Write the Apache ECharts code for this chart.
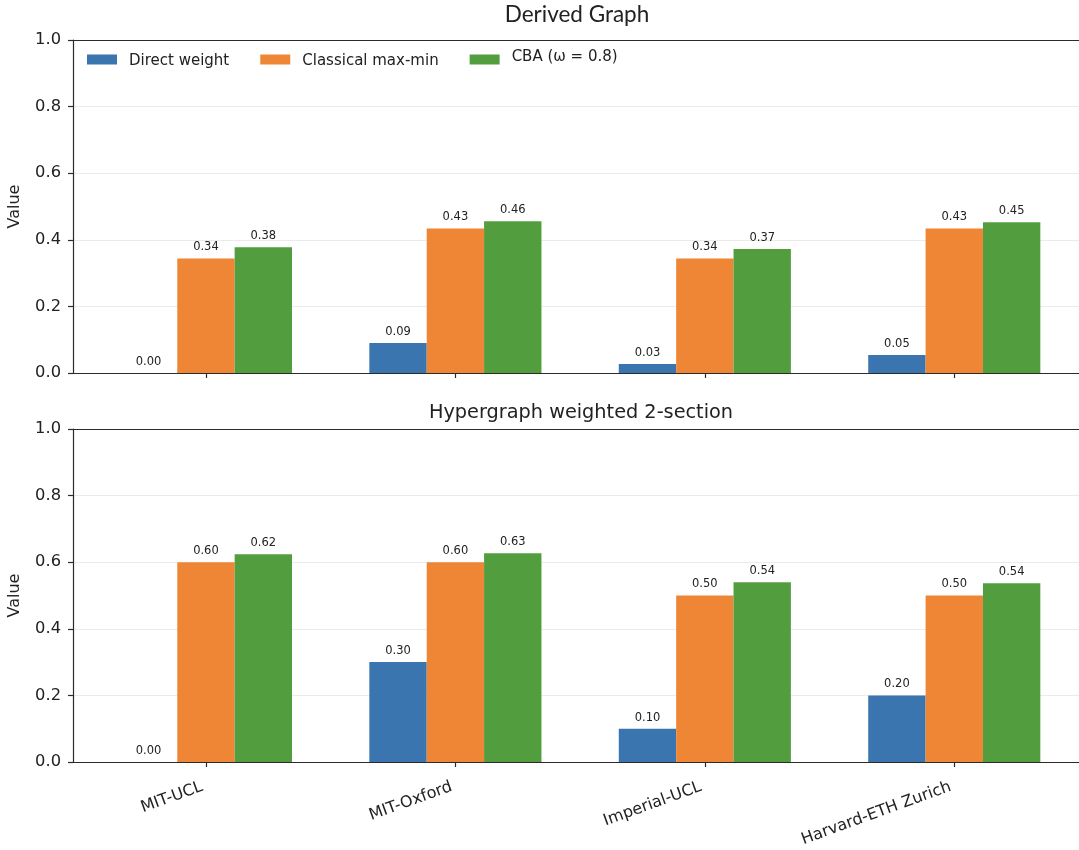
<!DOCTYPE html>
<html>
<head>
<meta charset="utf-8">
<title>Derived Graph vs Hypergraph weighted 2-section</title>
<script src="https://cdn.jsdelivr.net/npm/echarts@6/dist/echarts.min.js"></script>
<style>
  html, body { margin: 0; padding: 0; background: #ffffff; }
  #chart { width: 1079px; height: 850px; }
</style>
</head>
<body>
<div id="chart"></div>
<script>
// Institution pairs on the x axis
const pairs = ['MIT-UCL', 'MIT-Oxford', 'Imperial-UCL', 'Harvard-ETH Zurich'];
const seriesNames = ['Direct weight', 'Classical max-min', 'CBA (ω = 0.8)'];
const yTicks = [0, 0.2, 0.4, 0.6, 0.8, 1.0];

// Derived graph
const derivedDirect    = [0.00, 0.09, 0.027, 0.054];
const derivedClassical = [0.344, 0.434, 0.344, 0.434];
const derivedCBA       = [0.378, 0.456, 0.372, 0.453];

// Hypergraph weighted 2-section
const hyperDirect    = [0.00, 0.30, 0.10, 0.20];
const hyperClassical = [0.60, 0.60, 0.50, 0.50];
const hyperCBA       = [0.624, 0.627, 0.54, 0.537];

const colors = ['#3a75af', '#ef8636', '#529e3f'];
const ink = '#222222';
const spine = '#2b2b2b';
const font = 'DejaVu Sans';

const chart = echarts.init(document.getElementById('chart'), null, { renderer: 'canvas' });

const xMin = -0.533, xMax = 3.5;
const catPositions = pairs.map((_, i) => i);

function xAxisFor(gridIndex, showLabels) {
  return {
    type: 'value', gridIndex, min: xMin, max: xMax, position: 'bottom',
    splitLine: { show: false },
    axisLine: { show: true, onZero: false, lineStyle: { color: spine, width: 1.2 } },
    axisTick: { show: true, customValues: catPositions, length: 5, inside: false,
                lineStyle: { color: spine, width: 1.2 } },
    axisLabel: {
      show: showLabels, customValues: catPositions, rotate: 20, margin: 23,
      padding: [0, 4, 0, 0],
      fontFamily: font, fontSize: 16, color: ink,
      formatter: v => pairs[Math.round(v)] || ''
    }
  };
}
function topSpine(gridIndex) {
  return {
    type: 'value', gridIndex, min: xMin, max: xMax, position: 'top',
    splitLine: { show: false }, axisTick: { show: false }, axisLabel: { show: false },
    axisLine: { show: true, onZero: false, lineStyle: { color: spine, width: 1.2 } }
  };
}
function yAxisFor(gridIndex) {
  return {
    type: 'value', gridIndex, min: 0, max: 1, interval: 0.2,
    name: 'Value', nameLocation: 'middle', nameGap: 50, nameRotate: 90,
    nameTextStyle: { fontFamily: font, fontSize: 16, color: ink },
    axisLine: { show: true, onZero: false, lineStyle: { color: spine, width: 1.2 } },
    axisTick: { show: true, length: 5, lineStyle: { color: spine, width: 1.2 } },
    axisLabel: { fontFamily: font, fontSize: 16.3, color: ink, margin: 12,
                 formatter: v => v.toFixed(1) },
    splitLine: { show: true, lineStyle: { color: '#ebebeb', width: 1 } }
  };
}

function barSeries(name, values, idx, gridIdx) {
  return {
    name, type: 'bar', xAxisIndex: gridIdx, yAxisIndex: gridIdx,
    data: values.map((v, i) => [i, v]),
    barWidth: '23%', barGap: '0%',
    itemStyle: { color: colors[idx] },
    label: {
      show: true, position: 'top', distance: 5,
      fontFamily: font, fontSize: 11.5, color: ink,
      formatter: p => p.value[1].toFixed(2)
    },
    emphasis: { disabled: true },
    animation: false
  };
}

const option = {
  backgroundColor: '#ffffff',
  animation: false,
  title: [
    { text: 'Derived Graph', left: 572, top: -2, textAlign: 'center',
      textStyle: { fontFamily: 'Lato', fontSize: 22.5, fontWeight: 'normal', color: ink } },
    { text: 'Hypergraph weighted 2-section', left: 576, top: 398, textAlign: 'center',
      textStyle: { fontFamily: font, fontSize: 19.3, fontWeight: 'normal', color: ink } }
  ],
  legend: {
    left: 82, top: 45, itemWidth: 30, itemHeight: 10, itemGap: 31,
    icon: 'rect', selectedMode: false,
    data: seriesNames,
    textStyle: {
      fontFamily: font, fontSize: 15, color: ink, padding: [4, 0, 0, 7],
      rich: { raised: { fontFamily: font, fontSize: 15, color: ink, padding: [0, 0, 8, 0] } }
    },
    formatter: n => n.indexOf('CBA') === 0 ? '{raised|' + n + '}' : n
  },
  grid: [
    { left: 73, right: 0, top: 40, height: 333, containLabel: false, outerBoundsMode: 'none' },
    { left: 73, right: 0, top: 429, height: 333, containLabel: false, outerBoundsMode: 'none' }
  ],
  xAxis: [xAxisFor(0, false), xAxisFor(1, true), topSpine(0), topSpine(1)],
  yAxis: [yAxisFor(0), yAxisFor(1)],
  series: [
    barSeries(seriesNames[0], derivedDirect, 0, 0),
    barSeries(seriesNames[1], derivedClassical, 1, 0),
    barSeries(seriesNames[2], derivedCBA, 2, 0),
    barSeries(seriesNames[0], hyperDirect, 0, 1),
    barSeries(seriesNames[1], hyperClassical, 1, 1),
    barSeries(seriesNames[2], hyperCBA, 2, 1)
  ]
};

chart.setOption(option);
</script>
</body>
</html>
